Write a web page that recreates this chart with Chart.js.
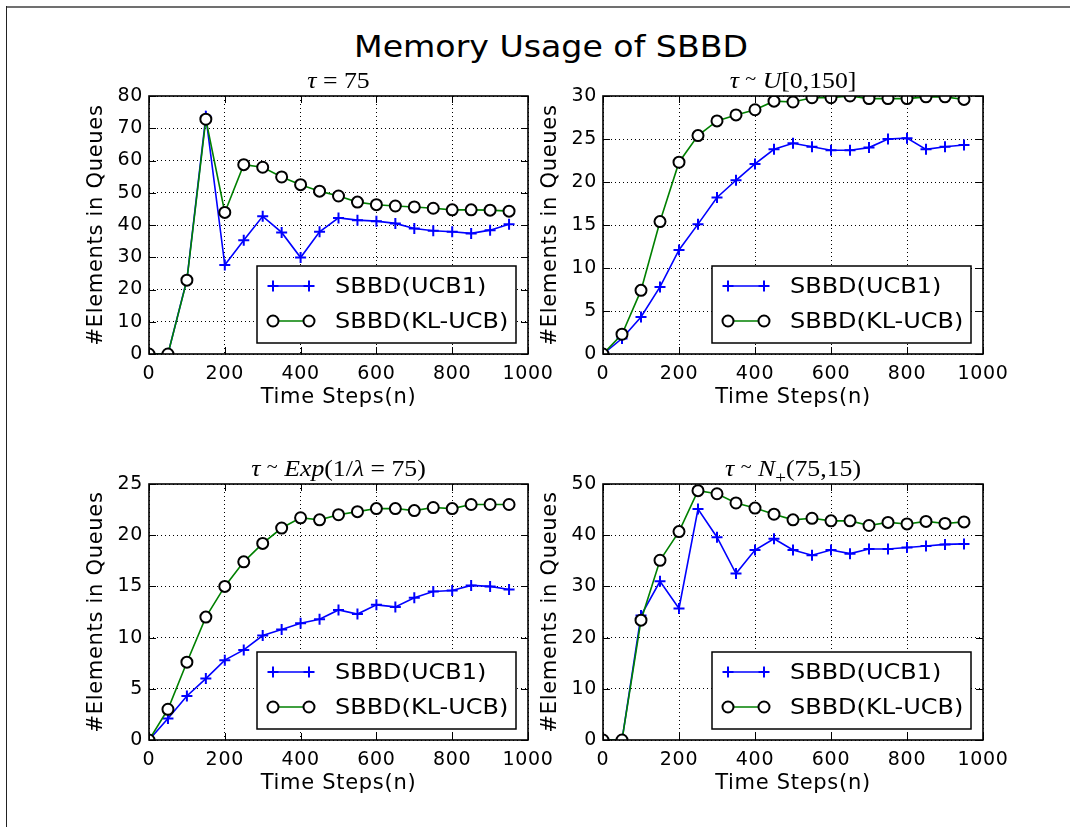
<!DOCTYPE html>
<html>
<head>
<meta charset="utf-8">
<title>Memory Usage of SBBD</title>
<script src="https://cdn.jsdelivr.net/npm/chart.js@4.4.1/dist/chart.umd.min.js"></script>
<style>
  html, body { margin: 0; padding: 0; background: #fff; }
  #page { position: relative; width: 1070px; height: 827px; overflow: hidden; background: #fff; }
  #page canvas { position: absolute; }
  .rule-top { position: absolute; left: 6px; top: 6px; right: 0; height: 2px; background: #707070; }
  .rule-left { position: absolute; left: 6px; top: 6px; bottom: 0; width: 1px; background: #222; }
  #suptitle {
    position: absolute; left: 251px; width: 600px; top: 28px;
    text-align: center; font: 31px/36px "DejaVu Sans", sans-serif; color: #000;
    transform: scaleX(1.07); transform-origin: 300px 0;
  }
</style>
</head>
<body>
<div id="page">
  <div class="rule-top"></div>
  <div class="rule-left"></div>
  <div id="suptitle">Memory Usage of SBBD</div>
  <canvas id="fixed" width="504" height="358" style="left:60px; top:56px"></canvas>
  <canvas id="uniform" width="509" height="358" style="left:510px; top:56px"></canvas>
  <canvas id="expo" width="504" height="356" style="left:60px; top:444px"></canvas>
  <canvas id="normal" width="509" height="356" style="left:510px; top:444px"></canvas>
</div>
<script>
Chart.defaults.font.family = '"DejaVu Sans", sans-serif';
Chart.defaults.color = '#000';

// time steps shared by every panel
const steps = [0, 50, 100, 150, 200, 250, 300, 350, 400, 450, 500, 550, 600, 650, 700, 750, 800, 850, 900, 950];

// tau = 75
const fixedUcb = [0, 0, 23.1, 73.7, 27.6, 35.3, 42.7, 37.7, 29.9, 37.9, 42.2, 41.5, 41.2, 40.5, 38.9, 38.2, 37.9, 37.4, 38.4, 40.2];
const fixedKl  = [0, 0, 22.9, 72.8, 43.9, 58.7, 57.9, 54.9, 52.5, 50.5, 49.0, 47.1, 46.3, 45.9, 45.6, 45.2, 44.7, 44.7, 44.6, 44.3];

// tau ~ U[0,150]
const uniformUcb = [0, 1.8, 4.3, 7.8, 12.1, 15.1, 18.2, 20.2, 22.1, 23.8, 24.5, 24.1, 23.7, 23.7, 24.0, 25.0, 25.1, 23.8, 24.1, 24.3];
const uniformKl  = [0, 2.3, 7.4, 15.4, 22.3, 25.4, 27.1, 27.8, 28.4, 29.4, 29.3, 29.8, 29.8, 30.0, 29.7, 29.7, 29.7, 29.9, 29.9, 29.6];

// tau ~ Exp(1/lambda = 75)
const expUcb = [0, 2.1, 4.3, 6.0, 7.8, 8.8, 10.2, 10.8, 11.4, 11.8, 12.7, 12.3, 13.2, 13.0, 13.9, 14.5, 14.6, 15.1, 15.0, 14.7];
const expKl  = [0, 3.0, 7.6, 12.0, 15.0, 17.4, 19.2, 20.7, 21.7, 21.5, 22.0, 22.3, 22.6, 22.6, 22.4, 22.7, 22.6, 23.0, 23.0, 23.0];

// tau ~ N+(75,15)
const normalUcb = [0, 0, 24.3, 31.0, 25.7, 45.1, 39.6, 32.5, 37.1, 39.3, 37.1, 36.1, 37.1, 36.4, 37.3, 37.3, 37.6, 37.9, 38.2, 38.3];
const normalKl  = [0, 0, 23.4, 35.1, 40.7, 48.7, 48.1, 46.3, 45.3, 44.1, 43.0, 43.3, 42.8, 42.8, 41.9, 42.5, 42.2, 42.7, 42.3, 42.6];

const seriesNames = ['SBBD(UCB1)', 'SBBD(KL-UCB)'];
const xTitle = 'Time Steps(n)';
const yTitle = '#Elements in Queues';

// the sans text is set a little wide
const textSpacing = {
    id: 'textSpacing',
    beforeUpdate(chart) { chart.ctx.letterSpacing = '0.7px'; },
    beforeDraw(chart) { chart.ctx.letterSpacing = '0.7px'; }
};

// panel title in math style: italic symbols, upright numbers
function mathTitle(parts) {
    return {
        id: 'mathTitle',
        afterDraw(chart) {
            const { ctx, chartArea: a } = chart;
            const size = 23, sx = 1.12;
            const fontOf = p => (p.it ? 'italic ' : '') + Math.round(size * (p.scale || 1)) + 'px "Liberation Serif", serif';
            ctx.save();
            ctx.letterSpacing = '0px';
            const widths = parts.map(p => { ctx.font = fontOf(p); return ctx.measureText(p.t).width; });
            const total = widths.reduce((s, w) => s + w, 0);
            const base = a.top - 8;
            ctx.translate((a.left + a.right) / 2, base);
            ctx.scale(sx, 1);
            let x = -total / 2;
            ctx.fillStyle = '#000';
            ctx.textBaseline = 'alphabetic';
            ctx.textAlign = 'left';
            parts.forEach((p, i) => {
                ctx.font = fontOf(p);
                ctx.fillText(p.t, x, p.dy || 0);
                x += widths[i];
            });
            ctx.restore();
        }
    };
}

// box around the plot with inward ticks on all four sides
const frameTicks = {
    id: 'frameTicks',
    afterDatasetsDraw(chart) {
        const { ctx, chartArea: a, scales: { x, y } } = chart;
        const len = 7;
        ctx.save();
        ctx.strokeStyle = '#000';
        ctx.lineWidth = 1;
        ctx.beginPath();
        x.ticks.forEach(t => {
            const px = Math.round(x.getPixelForValue(t.value)) + 0.5;
            ctx.moveTo(px, a.bottom); ctx.lineTo(px, a.bottom - len);
            ctx.moveTo(px, a.top); ctx.lineTo(px, a.top + len);
        });
        y.ticks.forEach(t => {
            const py = Math.round(y.getPixelForValue(t.value)) + 0.5;
            ctx.moveTo(a.left, py); ctx.lineTo(a.left + len, py);
            ctx.moveTo(a.right, py); ctx.lineTo(a.right - len, py);
        });
        ctx.stroke();
        ctx.lineWidth = 1.6;
        ctx.strokeRect(a.left, a.top, a.right - a.left, a.bottom - a.top);
        ctx.restore();
    }
};

function drawMarker(ctx, ds, x, y) {
    const r = ds.pointRadius;
    ctx.lineWidth = ds.pointBorderWidth;
    ctx.strokeStyle = ds.pointBorderColor;
    ctx.beginPath();
    if (ds.pointStyle === 'cross') {
        ctx.moveTo(x - r, y); ctx.lineTo(x + r, y);
        ctx.moveTo(x, y - r); ctx.lineTo(x, y + r);
        ctx.stroke();
    } else {
        ctx.arc(x, y, r, 0, Math.PI * 2);
        ctx.fillStyle = ds.pointBackgroundColor;
        ctx.fill();
        ctx.stroke();
    }
}

// legend box in the lower right corner of the plot
const insetLegend = {
    id: 'insetLegend',
    afterDraw(chart) {
        const { ctx, chartArea: a } = chart;
        const w = 259, h = 77;
        const bx = a.right - 12 - w;
        const by = a.bottom - 11 - h;
        ctx.save();
        ctx.letterSpacing = '0px';
        ctx.fillStyle = '#fff';
        ctx.fillRect(bx, by, w, h);
        ctx.lineWidth = 1.5;
        ctx.strokeStyle = '#000';
        ctx.strokeRect(bx, by, w, h);
        chart.data.datasets.forEach((ds, i) => {
            const y = by + 20 + i * 35;
            const x0 = bx + 16, x1 = bx + 52;
            ctx.strokeStyle = ds.borderColor;
            ctx.lineWidth = ds.borderWidth;
            ctx.beginPath();
            ctx.moveTo(x0, y); ctx.lineTo(x1, y);
            ctx.stroke();
            drawMarker(ctx, ds, x0, y);
            drawMarker(ctx, ds, x1, y);
            ctx.save();
            ctx.translate(bx + 78, y + 1);
            ctx.scale(1.09, 1);
            ctx.fillStyle = '#000';
            ctx.font = '22px "DejaVu Sans", sans-serif';
            ctx.textAlign = 'left';
            ctx.textBaseline = 'middle';
            ctx.fillText(ds.label, 0, 0);
            ctx.restore();
        });
        ctx.restore();
    }
};

function points(values) {
    return steps.map((s, i) => ({ x: s, y: values[i] }));
}

function makePanel(canvasId, layout, yMax, yStep, ucb, kl, titleParts) {
    return new Chart(document.getElementById(canvasId), {
        type: 'line',
        data: {
            datasets: [{
                label: seriesNames[0],
                data: points(ucb),
                borderColor: '#0000ff',
                borderWidth: 1.6,
                pointStyle: 'cross',
                pointRadius: 5.5,
                pointBorderWidth: 2,
                pointBorderColor: '#0000ff',
                pointBackgroundColor: '#0000ff',
                tension: 0,
                fill: false,
                clip: 0,
                order: 1
            }, {
                label: seriesNames[1],
                data: points(kl),
                borderColor: '#008000',
                borderWidth: 1.6,
                pointStyle: 'circle',
                pointRadius: 5.5,
                pointBorderWidth: 2,
                pointBorderColor: '#000000',
                pointBackgroundColor: '#ffffff',
                tension: 0,
                fill: false,
                clip: 0,
                order: 0
            }]
        },
        options: {
            responsive: false,
            animation: false,
            devicePixelRatio: 1,
            events: [],
            layout: { padding: { top: layout.padTop, right: 36, bottom: 0, left: 0 } },
            plugins: {
                legend: { display: false },
                tooltip: { enabled: false }
            },
            scales: {
                x: {
                    type: 'linear',
                    min: 0,
                    max: 1000,
                    afterFit: s => { s.height = 60; },
                    ticks: {
                        stepSize: 200, maxRotation: 0, autoSkip: false, padding: 9,
                        font: { size: 19 }, color: '#000',
                        callback: v => String(v)
                    },
                    grid: { color: '#000', lineWidth: 1, drawTicks: false },
                    border: { display: false, dash: [1, 3] },
                    title: { display: true, text: xTitle, color: '#000', font: { size: 21 }, padding: { top: 0, bottom: 4 } }
                },
                y: {
                    min: 0,
                    max: yMax,
                    afterFit: s => { s.width = layout.yWidth; },
                    ticks: { stepSize: yStep, padding: 6, font: { size: 19 }, color: '#000' },
                    grid: { color: '#000', lineWidth: 1, drawTicks: false },
                    border: { display: false, dash: [1, 3] },
                    title: { display: true, text: yTitle, color: '#000', font: { size: 21 }, padding: { top: layout.yTitlePad, bottom: 0 } }
                }
            }
        },
        plugins: [textSpacing, frameTicks, insetLegend, mathTitle(titleParts)]
    });
}

const leftCol = { yWidth: 89, yTitlePad: 24, padTop: 40 };
const rightCol = { yWidth: 93, yTitlePad: 28, padTop: 40 };

const sim = [{ t: ' ' }, { t: '~', scale: 0.8, dy: -3 }, { t: ' ' }];

makePanel('fixed', leftCol, 80, 10, fixedUcb, fixedKl, [
    { t: 'τ', it: true }, { t: ' = 75' }
]);
makePanel('uniform', rightCol, 30, 5, uniformUcb, uniformKl, [
    { t: 'τ', it: true }, ...sim, { t: 'U', it: true }, { t: '[0,150]' }
]);
makePanel('expo', leftCol, 25, 5, expUcb, expKl, [
    { t: 'τ', it: true }, ...sim, { t: 'Exp', it: true }, { t: '(1/' },
    { t: 'λ', it: true }, { t: ' = 75)' }
]);
makePanel('normal', rightCol, 50, 10, normalUcb, normalKl, [
    { t: 'τ', it: true }, ...sim, { t: 'N', it: true }, { t: '+', scale: 0.75, dy: 7 },
    { t: '(75,15)' }
]);
</script>
</body>
</html>
